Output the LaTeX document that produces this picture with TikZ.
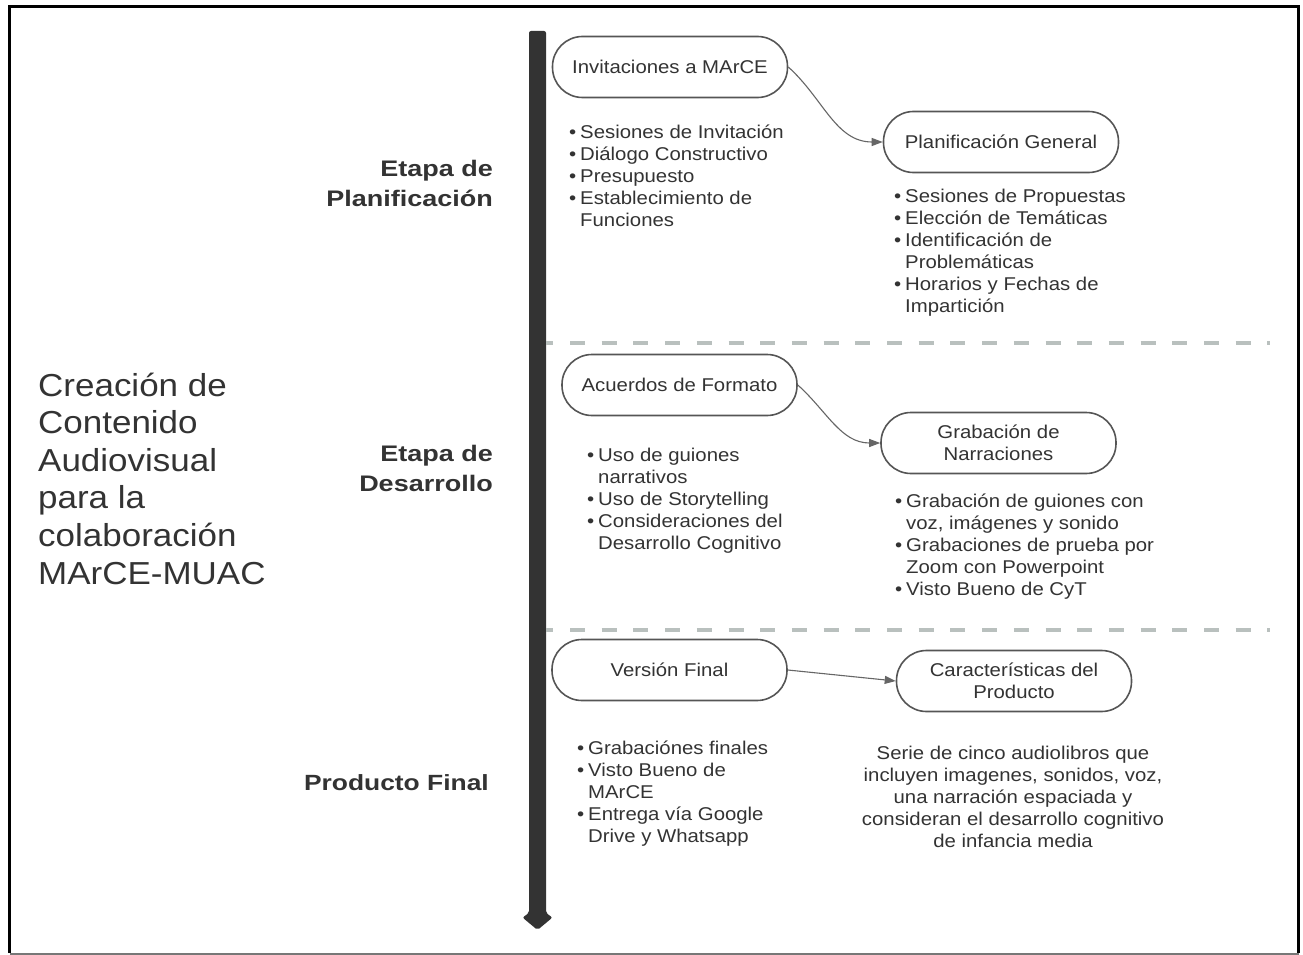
\documentclass[tikz,border=0pt]{standalone}
\usepackage{fontspec}
\setmainfont{Liberation Sans}[FakeStretch=1.1]
\newfontfamily\lblfont{Liberation Sans}[FakeStretch=1.2]
\usetikzlibrary{arrows.meta}

\definecolor{txt}{HTML}{333333}
\definecolor{barc}{HTML}{333333}
\definecolor{edgec}{HTML}{555555}
\definecolor{linkc}{HTML}{666666}
\definecolor{sepc}{RGB}{185,192,190}
\definecolor{framebot}{HTML}{777777}

\newcommand\txtfs{\fontsize{18.5}{22}\selectfont}
\newcommand\bul{\leavevmode\llap{\textbullet\hspace{4pt}}}

\tikzset{
  stadium/.style={draw=edgec, line width=1.6pt, rounded corners=30pt,
    minimum width=235pt, minimum height=61pt, inner sep=0pt,
    align=center, font=\txtfs, text=txt},
  link/.style={draw=linkc, line width=1.1pt, -{Triangle[length=11pt,width=8pt]}},
  listtxt/.style={anchor=base west, inner sep=0pt, text=txt, font=\txtfs},
  stagelbl/.style={anchor=base east, inner sep=0pt, text=txt,
    font=\lblfont\bfseries\fontsize{22.5}{30}\selectfont},
  sepline/.style={draw=sepc, line width=4pt, dash pattern=on 15pt off 16.7pt, dash phase=7.7pt}
}

\begin{document}
\begin{tikzpicture}[x=1pt,y=-1pt]
\useasboundingbox (0,0) rectangle (1303,955);
\fill[white] (0,0) rectangle (1303,955);

% outer frame
\draw[black, line width=3pt] (9.5,953) -- (9.5,6.5) -- (1298.5,6.5) -- (1298.5,953);
\draw[framebot, line width=2pt] (9.5,954) -- (1298.5,954);

% timeline bar with arrow head
\fill[barc, rounded corners=2pt] (529,31) -- (546,31) -- (546,913) -- (552.5,917.5)
  -- (537.5,930) -- (522.5,917.5) -- (529,913) -- cycle;

% separators between stages
\draw[sepline] (546,343) -- (1270,343);
\draw[sepline] (546,630) -- (1270,630);

% title
\node[anchor=base west, inner sep=0pt, text=txt, font=\fontsize{31.8}{37.6}\selectfont]
  (title) at (38,396) {\parbox[t]{260pt}{\raggedright Creación de\\Contenido\\Audiovisual\\para la\\colaboración\\MArCE-MUAC}};

% stage labels
\node[stagelbl] (s1) at (493,176.7) {\parbox[t]{220pt}{\raggedleft Etapa de\\Planificación}};
\node[stagelbl] (s2) at (493,461) {\parbox[t]{220pt}{\raggedleft Etapa de\\Desarrollo}};
\node[stagelbl, font=\lblfont\bfseries\fontsize{22}{30}\selectfont] (s3) at (489,790) {Producto Final};

% stage nodes
\node[stadium] (n1) at (670,67) {Invitaciones a MArCE};
\node[stadium] (n2) at (1001,142) {Planificación General};
\node[stadium] (n3) at (679.5,385) {Acuerdos de Formato};
\node[stadium] (n4) at (998.5,443) {Grabación de\\Narraciones};
\node[stadium] (n5) at (669.5,670) {Versión Final};
\node[stadium] (n6) at (1014,681) {Características del\\Producto};

% connectors
\draw[link] (n1.east) to[out=-42,in=180] (n2.west);
\draw[link] (n3.east) to[out=-42,in=180] (n4.west);
\draw[link] (n5.east) -- (n6.west);

% item lists
\node[listtxt] (l1) at (580,138.5) {\parbox[t]{300pt}{\raggedright
  \bul Sesiones de Invitación\\
  \bul Diálogo Constructivo\\
  \bul Presupuesto\\
  \bul Establecimiento de\\
  Funciones}};
\node[listtxt] (l2) at (905,202.5) {\parbox[t]{300pt}{\raggedright
  \bul Sesiones de Propuestas\\
  \bul Elección de Temáticas\\
  \bul Identificación de\\
  Problemáticas\\
  \bul Horarios y Fechas de\\
  Impartición}};
\node[listtxt] (l3) at (598,461.5) {\parbox[t]{300pt}{\raggedright
  \bul Uso de guiones\\
  narrativos\\
  \bul Uso de Storytelling\\
  \bul Consideraciones del\\
  Desarrollo Cognitivo}};
\node[listtxt] (l4) at (906,507.5) {\parbox[t]{300pt}{\raggedright
  \bul Grabación de guiones con\\
  voz, imágenes y sonido\\
  \bul Grabaciones de prueba por\\
  Zoom con Powerpoint\\
  \bul Visto Bueno de CyT}};
\node[listtxt] (l5) at (588,754.5) {\parbox[t]{300pt}{\raggedright
  \bul Grabaciónes finales\\
  \bul Visto Bueno de\\
  MArCE\\
  \bul Entrega vía Google\\
  Drive y Whatsapp}};
\node[listtxt, anchor=base] (p6) at (1013,759.5) {\parbox[t]{340pt}{\centering
  Serie de cinco audiolibros que\\
  incluyen imagenes, sonidos, voz,\\
  una narración espaciada y\\
  consideran el desarrollo cognitivo\\
  de infancia media}};
\end{tikzpicture}
\end{document}
